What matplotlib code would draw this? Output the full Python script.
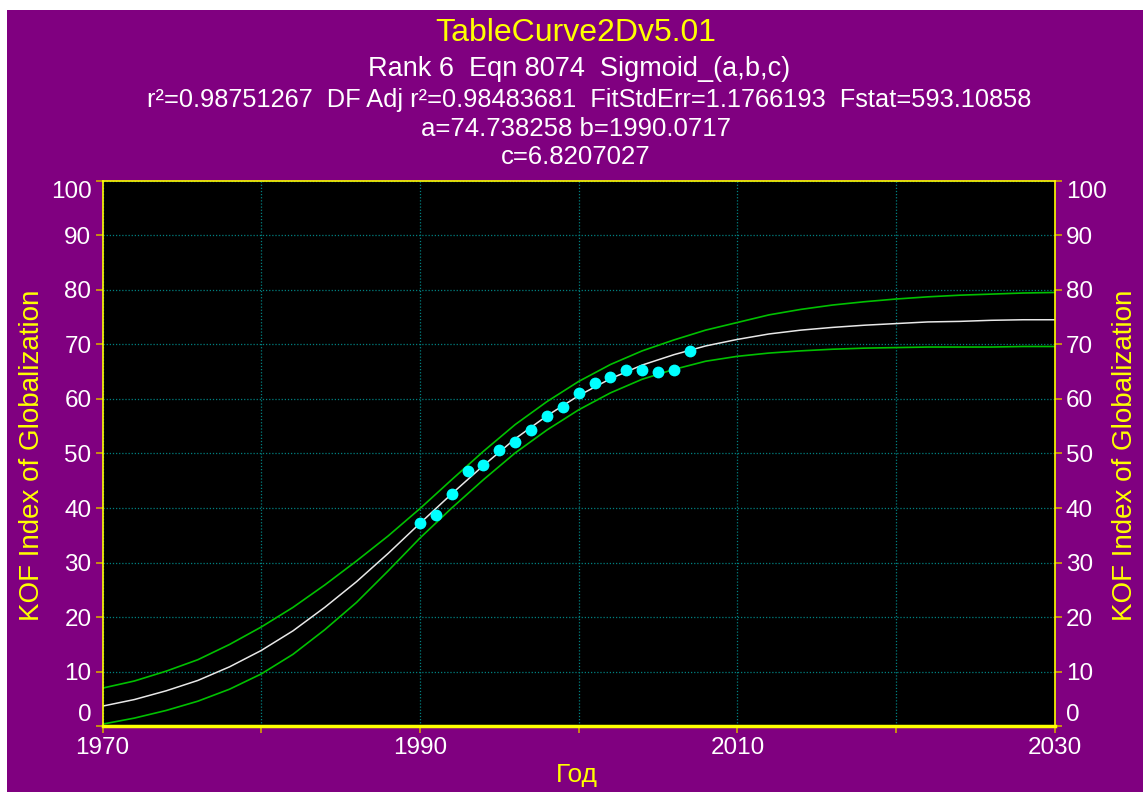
import matplotlib
matplotlib.use("Agg")
import matplotlib.pyplot as plt
from matplotlib.patches import Rectangle

# Observed KOF index values (cyan points)
years_obs = list(range(1990, 2008))
kof_obs = [37.3, 38.7, 42.5, 46.7, 47.9, 50.7, 52.1, 54.3, 56.8, 58.6,
           61.0, 62.9, 64.0, 65.3, 65.3, 65.0, 65.3, 68.8]

# Fitted curve and prediction band, read every 2 years
years_fit = list(range(1970, 2031, 2))
kof_fit = [3.7, 4.9, 6.5, 8.4, 10.9, 13.9, 17.5, 21.8, 26.5, 31.7,
           37.2, 42.6, 47.8, 52.7, 56.9, 60.6, 63.7, 66.2, 68.1, 69.7,
           70.9, 71.9, 72.6, 73.1, 73.5, 73.8, 74.1, 74.2, 74.4, 74.5, 74.5]
kof_upper = [7.0, 8.3, 10.1, 12.2, 15.0, 18.2, 21.8, 25.9, 30.3, 34.9,
             39.9, 45.2, 50.4, 55.3, 59.5, 63.2, 66.3, 68.8, 70.8, 72.6,
             74.0, 75.4, 76.4, 77.2, 77.8, 78.3, 78.7, 79.0, 79.2, 79.4, 79.5]
kof_lower = [0.4, 1.5, 2.9, 4.6, 6.8, 9.6, 13.2, 17.7, 22.7, 28.5,
             34.5, 40.0, 45.2, 50.1, 54.3, 58.0, 61.1, 63.6, 65.4, 66.9,
             67.8, 68.4, 68.8, 69.1, 69.3, 69.4, 69.5, 69.5, 69.5, 69.6, 69.6]

x_ticks = [1970, 1980, 1990, 2000, 2010, 2020, 2030]
x_tick_labels = ["1970", "", "1990", "", "2010", "", "2030"]
y_ticks = list(range(0, 101, 10))

plt.rcParams["font.family"] = ["Liberation Sans", "DejaVu Sans"]

W, H = 1143, 792
fig = plt.figure(figsize=(W / 100, H / 100), dpi=100, facecolor="white")
# purple panel, with the thin white margin on the top and left
fig.add_artist(Rectangle((7 / W, 0), 1, 1 - 10 / H, transform=fig.transFigure,
                         facecolor="#800080", edgecolor="none", zorder=-1))

ax = fig.add_axes([102.6 / W, 65.7 / H, 952.2 / W, 545.7 / H])
ax.set_facecolor("black")

ax.plot(years_fit, kof_upper, color="#00C000", lw=1.2)
ax.plot(years_fit, kof_lower, color="#00C000", lw=1.2)
ax.plot(years_fit, kof_fit, color="#E8E8E8", lw=1.1)
ax.plot(years_obs, kof_obs, "o", color="#00FFFF", ms=8.5, mec="none", zorder=5)

ax.set_xlim(1970, 2030)
ax.set_ylim(0, 100)
ax.set_xticks(x_ticks)
ax.set_xticklabels(x_tick_labels)
ax.set_yticks(y_ticks)
ax.grid(True, color="#008080", linestyle=(0, (1, 1.5)), lw=0.9)

for s in ax.spines.values():
    s.set_color("#FFFF00")
    s.set_linewidth(1.2)
ax.spines["bottom"].set_linewidth(2.5)

ax.tick_params(axis="both", colors="#D4A800", labelcolor="white",
               labelsize=17.5, length=5, width=1.2, direction="out", pad=3)
ax.tick_params(axis="y", right=True, labelright=True)

# end labels sit inside the axis range, as in the original
yt = ax.yaxis.get_major_ticks()
for lab in (yt[0].label1, yt[0].label2):
    lab.set_verticalalignment("bottom")
for lab in (yt[-1].label1, yt[-1].label2):
    lab.set_verticalalignment("top")

# titles
cx = 576 / W
fig.text(cx, 1 - 33 / H, "TableCurve2Dv5.01", color="#FFFF00", fontsize=23,
         ha="center", va="center")
fig.text(579 / W, 1 - 69 / H, "Rank 6  Eqn 8074  Sigmoid_(a,b,c)", color="white",
         fontsize=19.5, ha="center", va="center")
fig.text(589 / W, 1 - 100 / H,
         "r²=0.98751267  DF Adj r²=0.98483681  FitStdErr=1.1766193  Fstat=593.10858",
         color="white", fontsize=18.3, ha="center", va="center")
fig.text(cx, 1 - 129 / H, "a=74.738258 b=1990.0717", color="white",
         fontsize=18.5, ha="center", va="center")
fig.text(cx, 1 - 157 / H, "c=6.8207027", color="white",
         fontsize=18.5, ha="center", va="center")

# axis labels
fig.text(32 / W, 1 - 455 / H, "KOF Index of Globalization", color="#FFFF00",
         fontsize=20, rotation=90, ha="center", va="center")
fig.text(1125 / W, 1 - 455 / H, "KOF Index of Globalization", color="#FFFF00",
         fontsize=20, rotation=90, ha="center", va="center")
fig.text(577 / W, 1 - 775 / H, "Год", color="#FFFF00", fontsize=19,
         ha="center", va="center")

fig.savefig("out.png", dpi=100, facecolor=fig.get_facecolor())
